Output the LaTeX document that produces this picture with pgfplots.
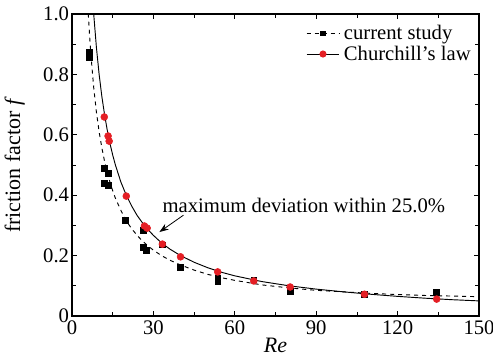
\documentclass[border=0pt]{standalone}
\usepackage{fontspec}
\setmainfont{Liberation Serif}
\usepackage{pgfplots}
\pgfplotsset{compat=1.18}
\usetikzlibrary{arrows.meta}
\definecolor{mred}{RGB}{228,30,36}
\begin{document}
\begin{tikzpicture}
\useasboundingbox (-54pt,-30.75pt) rectangle (315.75pt,237pt);
\begin{axis}[
  scale only axis, width=305.25pt, height=226.5pt,
  at={(0pt,0pt)}, anchor=south west,
  xmin=0, xmax=150, ymin=0, ymax=1.0,
  xtick={0,30,60,90,120,150}, minor x tick num=1,
  ytick={0,0.2,0.4,0.6,0.8,1.0}, minor y tick num=1,
  yticklabels={0,0.2,0.4,0.6,0.8,1.0},
  tick align=inside, major tick length=4pt, minor tick length=3pt,
  tick style={black, line width=0.6pt},
  axis line style={line width=0.8pt},
  /pgf/number format/assume math mode=true,
  ticklabel style={font=\fontsize{15.5}{17}\selectfont},
  yticklabel style={inner sep=2pt},
  xticklabel style={inner sep=1pt, yshift=-2.5pt},
  xlabel={\textit{Re}}, ylabel={friction factor \textit{f}},
  label style={font=\fontsize{16.5}{18}\selectfont},
  xlabel style={at={(axis description cs:0.5,-0.097)}, anchor=center, inner sep=0pt},
  ylabel style={at={(axis description cs:-0.141,0.5)}, anchor=center, rotate=0},
  legend style={draw=none, fill=none, at={(0.982,0.965)}, anchor=north east,
    font=\fontsize{15.5}{17}\selectfont, row sep=2pt, inner sep=0pt,
    nodes={inner sep=0.5pt}},
  legend cell align=left,
  legend image code/.code={\draw[mark repeat=2,mark phase=2] plot coordinates {(0cm,0cm)(0.43cm,0cm)(0.86cm,0cm)};},
  clip=true,
]
\addlegendimage{black, dashed, line width=0.7pt, mark=square*, mark size=1.7pt, mark options={solid}}
\addlegendentry{\,current study}
\addlegendimage{black, line width=0.7pt, mark=*, mark size=2.3pt, mark options={mred, draw=mred}}
\addlegendentry{\,Churchill's law}
% fitted current study curve
\addplot[black, dashed, line width=0.7pt, forget plot] coordinates {
(6,1.001)(6.5,0.926)(7,0.861)(8,0.757)(9,0.675)(10,0.610)(11,0.557)(12,0.512)(13,0.475)(14,0.443)(15,0.415)(16,0.390)(18,0.350)(20,0.315)(22,0.289)(24,0.267)(26,0.248)(28,0.232)(30,0.218)(33,0.200)(36,0.185)(40,0.169)(45,0.152)(50,0.138)(55,0.127)(60,0.118)(70,0.103)(80,0.093)(90,0.085)(100,0.080)(110,0.075)(120,0.071)(130,0.068)(140,0.066)(150,0.064)};
% Churchill's law curve
\addplot[black, line width=0.7pt, forget plot] coordinates {
(7.8,1.026)(8,1.000)(9,0.889)(10,0.800)(11,0.727)(12,0.667)(13,0.615)(14,0.571)(15,0.533)(16,0.500)(18,0.444)(20,0.400)(22,0.364)(24,0.333)(26,0.308)(28,0.286)(30,0.267)(33,0.242)(36,0.222)(40,0.200)(45,0.178)(50,0.160)(55,0.145)(60,0.133)(70,0.114)(80,0.100)(90,0.089)(100,0.080)(110,0.072)(120,0.065)(130,0.059)(140,0.054)(150,0.050)};
% current study data
\addplot[only marks, mark=square*, mark size=2.2pt, black, forget plot] coordinates {
(6.3,0.875)(6.3,0.858)(11.9,0.490)(13.3,0.473)(11.9,0.440)(13.4,0.434)(19.6,0.318)(26.3,0.285)(26.3,0.229)(27.4,0.219)(33.3,0.236)(40,0.162)(53.7,0.125)(53.7,0.116)(67,0.120)(80.4,0.082)(107.8,0.072)(134.4,0.078)};
% Churchill's law points
\addplot[only marks, mark=*, mark size=2.6pt, mred, forget plot] coordinates {
(11.9,0.659)(13.3,0.596)(13.7,0.579)(20,0.397)(26.7,0.298)(27.7,0.291)(33.3,0.238)(40,0.196)(53.7,0.146)(67,0.116)(80.4,0.096)(107.8,0.072)(134.4,0.056)};
\node[font=\fontsize{15.5}{17}\selectfont, anchor=west, inner sep=0pt] at (axis cs:33.3,0.367) {maximum deviation within 25.0\%};
\draw[-{Stealth[length=7pt,width=5pt]}, line width=0.6pt] (axis cs:41.1,0.334) -- (axis cs:32.2,0.278);
\end{axis}
\end{tikzpicture}
\end{document}
